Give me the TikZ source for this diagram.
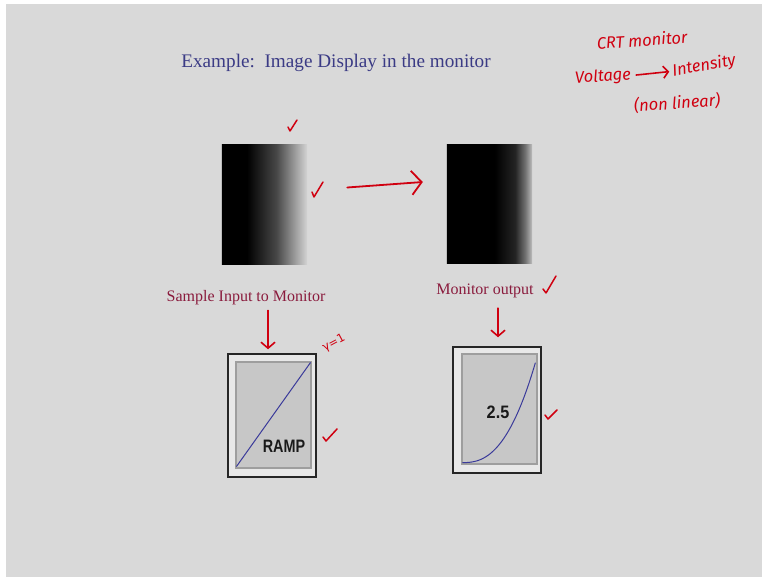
\documentclass[tikz,border=0pt]{standalone}
\usepackage{fontspec}
\setmainfont{Liberation Serif}
\newfontfamily\hand{Fira Sans}
\newfontfamily\uisans{Liberation Sans}
\newfontfamily\symfont{DejaVu Sans}
\usetikzlibrary{arrows.meta}
\definecolor{bgc}{HTML}{D9D9D9}
\definecolor{ttl}{HTML}{3B3B85}
\definecolor{lbl}{HTML}{8A1B3D}
\definecolor{inkc}{HTML}{D00010}
\definecolor{crvc}{HTML}{3A3A9A}
\pgfdeclarehorizontalshading{leftgrad}{100bp}{color(0bp)=(black); color(39.7bp)=(black); color(57bp)=(black!72); color(75bp)=(black!17); color(100bp)=(black!17)}
\pgfdeclarehorizontalshading{rightgrad}{100bp}{color(0bp)=(black); color(53bp)=(black); color(65bp)=(black!86); color(71bp)=(black!55); color(75bp)=(black!25); color(100bp)=(black!25)}
\begin{document}
\begin{tikzpicture}[x=1pt,y=-1pt,
  ink/.style={draw=inkc, line width=1.8pt, line cap=round, line join=round},
  inkarrow/.style={ink, -{Straight Barb[length=10pt,width=24pt,line width=1.8pt]}},
  inkdown/.style={ink, -{Straight Barb[length=6pt,width=14pt,line width=1.6pt]}},
  inksmall/.style={ink, line width=1.6pt, -{Straight Barb[length=5pt,width=12pt,line width=1.6pt]}},
  handtext/.style={text=inkc, font=\hand\itshape\fontsize{16.5}{16.5}\selectfont, inner sep=0},
  lab/.style={text=lbl, font=\fontsize{16}{16}\selectfont, inner sep=1pt},
  imgbox/.style={minimum width=85pt, minimum height=119pt, inner sep=0, draw=none},
  outerbox/.style={draw=black!85, line width=1.5pt, fill=black!9, inner sep=0},
  innerbox/.style={draw=black!38, line width=1.2pt, fill=black!22, inner sep=0},
  curve/.style={draw=crvc, line width=1pt},
  chk/.style={ink, line width=1.5pt},
  boxtext/.style={font=\uisans\bfseries\fontsize{18}{18}\selectfont, text=black!90, inner sep=0}]

\useasboundingbox (0,0) rectangle (762,577);
\fill[white] (0,0) rectangle (762,577);
\fill[bgc] (6,4) rectangle (762,577);

% title
\node[text=ttl, font=\fontsize{19.2}{19.2}\selectfont] (title) at (336,63) {Example:\ \ Image Display in the monitor};

% images
\node[imgbox] (inimg) at (264.5,204.5) {};
\shade[shading=leftgrad] (inimg.north west) rectangle (inimg.south east);

\node[imgbox] (outimg) at (489.5,204) {};
\shade[shading=rightgrad] (outimg.north west) rectangle (outimg.south east);

\draw[inkarrow] ([xshift=40pt,yshift=17pt]inimg.east) -- ([xshift=-24pt,yshift=22pt]outimg.west);

% labels
\node[lab] (inlabel) at (246,298) {Sample Input to Monitor};
\node[lab] (outlabel) at (485,291) {Monitor output};

% ramp box
\node[outerbox, minimum width=88pt, minimum height=123pt] (ramp) at (272,415.5) {};
\node[innerbox, minimum width=75pt, minimum height=106pt] (rampin) at (273.5,415) {};
\draw[curve] ([xshift=1pt,yshift=2pt]rampin.south west) -- ([xshift=-1pt,yshift=-1pt]rampin.north east);
\node[boxtext] (ramptext) at (284,446) {\scalebox{0.8}[1]{RAMP}};

% gamma box
\node[outerbox, minimum width=88pt, minimum height=126pt] (gbox) at (497,410) {};
\node[innerbox, minimum width=75pt, minimum height=110pt] (gin) at (499.5,409) {};
\draw[curve, shift={(gin.south west)}] plot[domain=0:1, samples=50] ({1+73*\x}, {-2-100*(\x^2.5)});
\node[boxtext] (gtext) at (498,412) {\scalebox{0.9}[1]{2.5}};

% down arrows
\draw[inkdown] ([xshift=22pt,yshift=-4pt]inlabel.south) -- ([xshift=-4pt,yshift=4pt]ramp.north);
\draw[inkdown] ([xshift=13pt,yshift=-9pt]outlabel.south) -- ([xshift=1pt,yshift=9pt]gbox.north);

% gamma annotation
\node[text=inkc, inner sep=0, rotate=28, font=\symfont\fontsize{11.5}{11.5}\selectfont] (gam) at (334,343) {γ=1};

% top right notes
\node[handtext, rotate=4] (crt) at (642,40) {CRT monitor};
\node[handtext, rotate=4] (volt) at (603,77) {Voltage};
\node[handtext, rotate=10] (inten) at (704,66) {Intensity};
\draw[inksmall] ([xshift=5pt]volt.east) -- ([xshift=-3pt]inten.west);
\node[handtext, rotate=4] (nonlin) at (677,103) {(non linear)};

% check marks
\draw[chk] (288,127) -- (290,131) -- (297,120);
\draw[chk] (312,192) -- (314,197) -- (323,182);
\draw[chk] (543,289) -- (546,293) -- (556,276);
\draw[chk] (323,437) -- (326,441) -- (337,429);
\draw[chk] (545,415) -- (548,419) -- (557,410);
\end{tikzpicture}
\end{document}
